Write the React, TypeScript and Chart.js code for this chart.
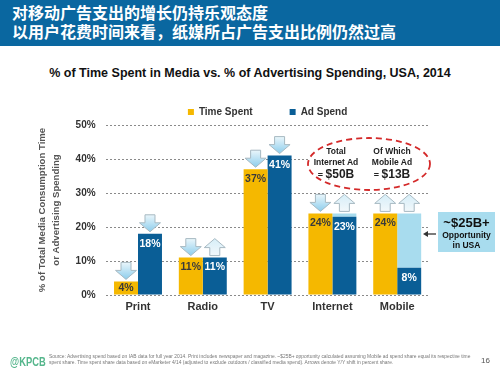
import React, { useEffect, useRef } from 'react';
import { Chart, registerables } from 'chart.js';

Chart.register(...registerables);

// ---------- data ----------
const categories = ['Print', 'Radio', 'TV', 'Internet', 'Mobile'];
const timeSpent = [4, 11, 37, 24, 24];
const adSpend = [18, 11, 41, 23, 8];
const opportunity = [0, 0, 0, 1, 16];
const timeArrows = ['down', 'down', 'down', 'down', 'up'];
const adArrows = ['down', 'up', 'down', 'up', 'up'];
const yMax = 50;
const yStep = 10;

const YELLOW = '#f5b800';
const BLUE = '#0a5e96';
const LIGHT = '#a8dcee';
const FONT = '"Liberation Sans", Arial, Helvetica, sans-serif';

function drawArrow(ctx: CanvasRenderingContext2D, cx: number, bw: number, top: number, dir: string) {
  const h = 17;
  const w = Math.min(21, bw - 2);
  const sw = 10;
  const headH = 9;
  const bottom = top - 2;
  const t = bottom - h;
  ctx.save();
  ctx.beginPath();
  if (dir === 'down') {
    ctx.moveTo(cx - sw / 2, t);
    ctx.lineTo(cx + sw / 2, t);
    ctx.lineTo(cx + sw / 2, bottom - headH);
    ctx.lineTo(cx + w / 2, bottom - headH);
    ctx.lineTo(cx, bottom);
    ctx.lineTo(cx - w / 2, bottom - headH);
    ctx.lineTo(cx - sw / 2, bottom - headH);
  } else {
    ctx.moveTo(cx, t);
    ctx.lineTo(cx + w / 2, t + headH);
    ctx.lineTo(cx + sw / 2, t + headH);
    ctx.lineTo(cx + sw / 2, bottom);
    ctx.lineTo(cx - sw / 2, bottom);
    ctx.lineTo(cx - sw / 2, t + headH);
    ctx.lineTo(cx - w / 2, t + headH);
  }
  ctx.closePath();
  const g = ctx.createLinearGradient(0, t, 0, bottom);
  if (dir === 'down') {
    g.addColorStop(0, '#eaf6fb');
    g.addColorStop(1, '#8ccdec');
  } else {
    g.addColorStop(0, '#d6eef8');
    g.addColorStop(1, '#f2f8fb');
  }
  ctx.fillStyle = g;
  ctx.fill();
  ctx.strokeStyle = '#a7b9c2';
  ctx.lineWidth = 1;
  ctx.stroke();
  ctx.restore();
}

const decorPlugin = {
  id: 'decor',
  afterDatasetsDraw(chart: any) {
    const ctx: CanvasRenderingContext2D = chart.ctx;
    const y = chart.scales.y;
    const metaT = chart.getDatasetMeta(0);
    const metaA = chart.getDatasetMeta(1);
    categories.forEach((_, i) => {
      const bt = metaT.data[i];
      const ba = metaA.data[i];
      drawArrow(ctx, bt.x, bt.width, y.getPixelForValue(timeSpent[i]), timeArrows[i]);
      drawArrow(ctx, ba.x, ba.width, y.getPixelForValue(adSpend[i] + opportunity[i]), adArrows[i]);
      ctx.save();
      ctx.font = `bold 10.5px ${FONT}`;
      ctx.textAlign = 'center';
      ctx.textBaseline = 'middle';
      const offT = Math.min(10, (bt.base - bt.y) / 2);
      ctx.fillStyle = '#3a3a3a';
      ctx.fillText(timeSpent[i] + '%', bt.x, bt.y + offT);
      const offA = Math.min(10, (ba.base - ba.y) / 2);
      ctx.fillStyle = '#ffffff';
      ctx.fillText(adSpend[i] + '%', ba.x, ba.y + offA);
      ctx.restore();
    });
  },
};

function ChartCanvas() {
  const ref = useRef<HTMLCanvasElement | null>(null);
  useEffect(() => {
    if (!ref.current) return;
    const chart = new Chart(ref.current, {
      type: 'bar',
      data: {
        labels: categories,
        datasets: [
          { label: 'Time Spent', data: timeSpent, backgroundColor: YELLOW, stack: 'time' },
          { label: 'Ad Spend', data: adSpend, backgroundColor: BLUE, stack: 'ad' },
          { label: 'Opportunity', data: opportunity, backgroundColor: LIGHT, stack: 'ad' },
        ],
      },
      options: {
        responsive: false,
        animation: false,
        datasets: { bar: { categoryPercentage: 0.74, barPercentage: 1.0 } },
        layout: { padding: { top: 70, left: 30, right: 70.4, bottom: 56.8 } },
        plugins: {
          tooltip: { enabled: false },
          title: { display: false },
          legend: {
            position: 'top',
            fullSize: false,
            maxHeight: 55,
            labels: {
              boxWidth: 6,
              boxHeight: 6,
              padding: 37,
              color: '#333',
              font: { family: FONT, size: 10, weight: 'bold' },
              filter: (item: any) => item.datasetIndex !== 2,
            },
          },
        },
        scales: {
          x: {
            stacked: true,
            grid: { display: false, drawTicks: false },
            border: { display: false },
            ticks: { color: '#333', padding: 5, font: { family: FONT, size: 11, weight: 'bold' } },
          },
          y: {
            stacked: true,
            min: 0,
            max: yMax,
            afterFit: (scale: any) => {
              scale.width = 75.6;
            },
            ticks: {
              stepSize: yStep,
              padding: 10,
              color: '#333',
              font: { family: FONT, size: 10, weight: 'bold' },
              callback: (v: any) => v + '%',
            },
            grid: { color: '#8a8a8a', lineWidth: 1, drawTicks: false },
            border: { display: false, dash: [2, 2] },
            title: {
              display: true,
              text: ['% of Total Media Consumption Time', 'or Advertising Spending'],
              color: '#555',
              padding: { top: 6, bottom: 0 },
              font: { family: FONT, size: 9.6, weight: 'bold', lineHeight: 1.4 },
            },
          },
        },
      },
      plugins: [decorPlugin],
    } as any);
    return () => chart.destroy();
  }, []);
  return <canvas ref={ref} width={500} height={375} style={{ position: 'absolute', left: 0, top: 0, width: 500, height: 375 }} />;
}

export default function App() {
  const abs = (s: React.CSSProperties): React.CSSProperties => ({ position: 'absolute', ...s });
  const small: React.CSSProperties = { fontSize: 8.5, lineHeight: '10.5px' };
  const big: React.CSSProperties = { fontSize: 9, lineHeight: '13px', marginTop: 1 };
  return (
    <div style={{ position: 'fixed', left: 0, top: 0, width: 500, height: 375, background: '#fff', overflow: 'hidden', fontFamily: FONT }}>
      <div style={abs({ left: 0, top: 0, width: 500, height: 46, background: '#0a67a0' })} />
      <div style={abs({ left: 12, top: 3, color: '#fff', fontFamily: '"Noto Sans CJK SC", sans-serif', fontWeight: 700, fontSize: 16, lineHeight: '19px', whiteSpace: 'nowrap' })}>
        对移动广告支出的增长仍持乐观态度
        <br />
        以用户花费时间来看，纸媒所占广告支出比例仍然过高
      </div>
      <div style={abs({ left: 0, top: 65, width: 500, textAlign: 'center', fontWeight: 700, fontSize: 12.5, lineHeight: '16px', color: '#111' })}>
        % of Time Spent in Media vs. % of Advertising Spending, USA, 2014
      </div>
      <ChartCanvas />
      <svg width={500} height={375} style={{ position: 'absolute', left: 0, top: 0 }}>
        <ellipse cx={369} cy={164} rx={61} ry={26} fill="#ffffff" stroke="#d42a2a" strokeWidth={1.8} strokeDasharray="6 4" />
        <rect x={438} y={212} width={57} height={40} fill={LIGHT} />
        <line x1={426} y1={234} x2={436} y2={234} stroke="#333" strokeWidth={1.3} />
        <path d="M423 234 L428 231 L428 237 Z" fill="#333" />
      </svg>
      <div style={abs({ left: 306, top: 146, width: 60, textAlign: 'center', color: '#222', fontWeight: 700 })}>
        <div style={small}>Total</div>
        <div style={small}>Internet Ad</div>
        <div style={big}>= <span style={{ fontSize: 12 }}>$50B</span></div>
      </div>
      <div style={abs({ left: 362, top: 146, width: 60, textAlign: 'center', color: '#222', fontWeight: 700 })}>
        <div style={small}>Of Which</div>
        <div style={small}>Mobile Ad</div>
        <div style={big}>= <span style={{ fontSize: 12 }}>$13B</span></div>
      </div>
      <div style={abs({ left: 438, top: 215, width: 57, textAlign: 'center', color: '#111', fontWeight: 700 })}>
        <div style={{ fontSize: 13, lineHeight: '15px' }}>~$25B+</div>
        <div style={{ fontSize: 8.5, lineHeight: '10px' }}>Opportunity<br />in USA</div>
      </div>
      <div style={abs({ left: 10, top: 354, color: '#55b68c', fontWeight: 700, fontSize: 13, lineHeight: '16px', transform: 'scaleX(0.72)', transformOrigin: '0 0', whiteSpace: 'nowrap' })}>
        @KPCB
      </div>
      <div style={abs({ left: 49, top: 354, width: 425, fontSize: 4.9, lineHeight: '6px', color: '#777', whiteSpace: 'nowrap' })}>
        Source: Advertising spend based on IAB data for full year 2014. Print includes newspaper and magazine. ~$25B+ opportunity calculated assuming Mobile ad spend share equal its respective time
        <br />
        spent share. Time spent share data based on eMarketer 4/14 (adjusted to exclude outdoors / classified media spend). Arrows denote Y/Y shift in percent share.
      </div>
      <div style={abs({ left: 481, top: 356, fontSize: 8, lineHeight: '10px', color: '#555' })}>16</div>
    </div>
  );
}
